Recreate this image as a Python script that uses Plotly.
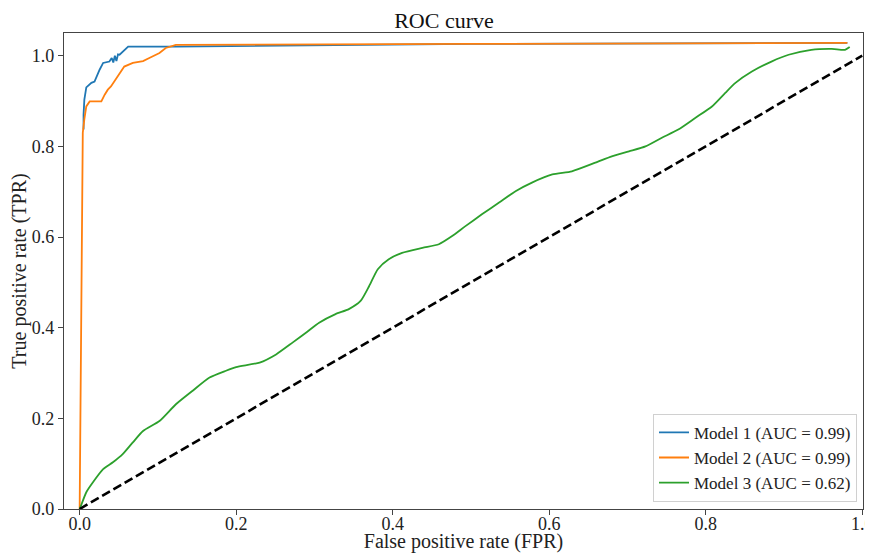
import plotly.graph_objects as go

# Model 1 (blue)
m1_fpr = [0.005, 0.005, 0.006, 0.0085, 0.015, 0.019, 0.0255, 0.030, 0.038, 0.041, 0.043, 0.045, 0.047, 0.049, 0.051, 0.062, 0.123, 0.5, 0.981]
m1_tpr = [0.837, 0.87, 0.903, 0.93, 0.94, 0.943, 0.969, 0.984, 0.987, 0.995, 0.985, 1.0, 0.988, 1.003, 1.002, 1.02, 1.02, 1.026, 1.028]

# Model 2 (orange)
m2_fpr = [0.0, 0.004, 0.006, 0.0085, 0.0128, 0.0277, 0.032, 0.036, 0.040, 0.049, 0.057, 0.068, 0.081, 0.089, 0.102, 0.110, 0.123, 0.5, 0.981]
m2_tpr = [0.0, 0.83, 0.86, 0.888, 0.899, 0.899, 0.914, 0.925, 0.932, 0.955, 0.976, 0.984, 0.988, 0.995, 1.006, 1.017, 1.024, 1.026, 1.028]

# Model 3 (green)
m3_fpr = [0.0, 0.001, 0.0085, 0.017, 0.030, 0.0425, 0.055, 0.068, 0.081, 0.102, 0.123, 0.1445, 0.166, 0.187, 0.200, 0.230, 0.251,
          0.272, 0.290, 0.306, 0.327, 0.344, 0.359, 0.370, 0.381, 0.395, 0.412, 0.438, 0.459, 0.476, 0.493, 0.514, 0.536, 0.557,
          0.578, 0.604, 0.629, 0.659, 0.680, 0.702, 0.723, 0.744, 0.765, 0.787, 0.808, 0.825, 0.838, 0.859, 0.884, 0.906,
          0.935, 0.961, 0.978, 0.984]
m3_tpr = [0.0, 0.004, 0.037, 0.059, 0.088, 0.103, 0.121, 0.147, 0.172, 0.194, 0.231, 0.261, 0.290, 0.305, 0.313, 0.323, 0.341,
          0.367, 0.390, 0.411, 0.430, 0.441, 0.459, 0.492, 0.529, 0.551, 0.565, 0.576, 0.584, 0.602, 0.624, 0.650, 0.676, 0.701,
          0.720, 0.738, 0.745, 0.764, 0.778, 0.789, 0.800, 0.819, 0.837, 0.863, 0.888, 0.918, 0.940, 0.965, 0.987, 1.002,
          1.013, 1.015, 1.013, 1.019]

diag = [0.0, 1.0]

names = ["Model 1 (AUC = 0.99)", "Model 2 (AUC = 0.99)", "Model 3 (AUC = 0.62)"]
tick_vals = [0.0, 0.2, 0.4, 0.6, 0.8, 1.0]
tick_text = ["0.0", "0.2", "0.4", "0.6", "0.8", "1.0"]

FONT = "Liberation Serif, Times New Roman, serif"

fig = go.Figure()
fig.add_trace(go.Scatter(x=m1_fpr, y=m1_tpr, mode="lines", name=names[0],
                         line=dict(color="#1f77b4", width=1.8)))
fig.add_trace(go.Scatter(x=m2_fpr, y=m2_tpr, mode="lines", name=names[1],
                         line=dict(color="#ff7f0e", width=1.8)))
fig.add_trace(go.Scatter(x=m3_fpr, y=m3_tpr, mode="lines", name=names[2],
                         line=dict(color="#2ca02c", width=1.8, shape="spline", smoothing=0.6)))
fig.add_trace(go.Scatter(x=diag, y=diag, mode="lines", showlegend=False,
                         line=dict(color="black", width=2.6, dash="9px,4px")))

# page has an 8px body margin, so the figure is 865x545 and offsets are compensated
fig.update_layout(
    width=865, height=545,
    margin=dict(l=56, r=10, t=25, b=44, autoexpand=False),
    paper_bgcolor="white", plot_bgcolor="white",
    font=dict(family=FONT, size=18, color="#222"),
    title=dict(text="ROC curve", x=0.504, xanchor="center", y=0.978, yanchor="middle",
               font=dict(family=FONT, size=22, color="#111")),
    showlegend=True,
    legend=dict(x=0.9925, y=0.015, xanchor="right", yanchor="bottom",
                bgcolor="rgba(255,255,255,0.9)", bordercolor="#d0d0d0", borderwidth=1,
                font=dict(family=FONT, size=17, color="#222"),
                tracegroupgap=0, itemwidth=30),
)
fig.update_xaxes(range=[-0.02, 1.001], tickvals=tick_vals, ticktext=tick_text, automargin=False,
                 showgrid=False, zeroline=False, showline=True, mirror=True,
                 linecolor="#444", linewidth=1.2, ticks="outside", ticklen=5, tickcolor="#444",
                 ticklabelstandoff=-7, ticklabeloverflow="allow",
                 tickfont=dict(family=FONT, size=18, color="#222"),
                 title=dict(text="False positive rate (FPR)", standoff=1,
                            font=dict(family=FONT, size=20, color="#222")))
fig.update_yaxes(range=[0.0, 1.05], tickvals=tick_vals, ticktext=tick_text, automargin=False,
                 showgrid=False, zeroline=False, showline=True, mirror=True,
                 linecolor="#444", linewidth=1.2, ticks="outside", ticklen=5, tickcolor="#444",
                 tickfont=dict(family=FONT, size=18, color="#222"),
                 title=dict(text="True positive rate (TPR)", standoff=2,
                            font=dict(family=FONT, size=20, color="#222")))

fig.write_html("out.html")
